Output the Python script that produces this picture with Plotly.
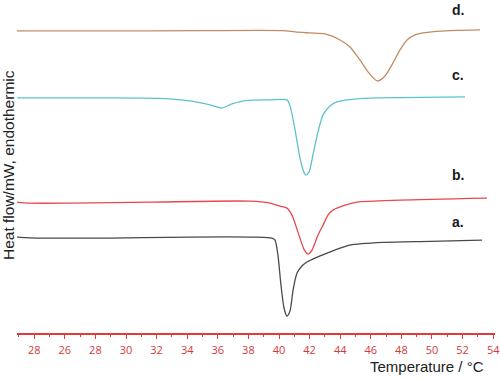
import plotly.graph_objects as go

# DSC curves: temperature (°C) and heat flow (arbitrary mW offsets)
T_d = [22.88, 28.30, 34.84, 40.26, 41.05, 42.03, 43.01, 43.99, 44.64, 45.29, 45.82, 46.41,
       46.93, 47.45, 47.91, 48.37, 48.89, 49.41, 51.18, 53.14]
Y_d = [9.07, 9.07, 9.08, 9.08, 9.04, 9.01, 8.98, 8.80, 8.59, 8.20, 7.84, 7.57,
       7.72, 8.11, 8.50, 8.80, 8.95, 9.01, 9.08, 9.10]

T_c = [22.88, 28.30, 32.55, 34.18, 35.49, 36.27, 36.93, 37.78, 39.41, 40.52, 40.72, 41.05,
       41.37, 41.63, 41.76, 41.96, 42.22, 42.55, 42.88, 43.33, 43.79, 45.29, 47.91, 52.16]
Y_c = [7.06, 7.06, 7.04, 6.97, 6.85, 6.76, 6.88, 6.98, 7.00, 7.00, 6.82, 6.10,
       5.26, 4.83, 4.74, 4.83, 5.35, 6.04, 6.55, 6.82, 6.94, 7.04, 7.07, 7.09]

T_b = [22.88, 23.73, 26.34, 31.57, 38.10, 39.41, 40.07, 40.52, 40.85, 41.24, 41.63, 41.90,
       42.16, 42.55, 42.88, 43.20, 43.53, 44.31, 45.10, 47.91, 53.59]
Y_b = [3.93, 3.90, 3.90, 3.93, 3.96, 3.90, 3.81, 3.75, 3.54, 3.03, 2.52, 2.37,
       2.49, 2.94, 3.24, 3.54, 3.69, 3.84, 3.93, 3.99, 4.05]

T_a = [22.88, 24.38, 28.30, 39.54, 39.74, 39.93, 40.13, 40.33, 40.52, 40.72, 40.92, 41.18,
       41.50, 41.83, 42.35, 43.14, 43.99, 44.64, 46.80, 49.87, 53.27]
Y_a = [2.88, 2.85, 2.85, 2.85, 2.79, 2.34, 1.44, 0.75, 0.51, 0.66, 1.29, 1.80,
       2.01, 2.13, 2.25, 2.40, 2.55, 2.64, 2.72, 2.75, 2.79]

tick_vals = [24, 26, 28, 30, 32, 34, 36, 38, 40, 42, 44, 46, 48, 50, 52, 54]
tick_text = ["28", "26", "28", "30", "32", "34", "36", "38", "40", "42", "44", "46",
             "48", "50", "52", "54"]

curves = [
    (T_d, Y_d, "#c58b60", "d."),
    (T_c, Y_c, "#5cc3cc", "c."),
    (T_b, Y_b, "#e8484d", "b."),
    (T_a, Y_a, "#4a4a4a", "a."),
]
label_y = {"d.": 9.70, "c.": 7.75, "b.": 4.74, "a.": 3.33}

W, H = 500, 379
L, R, TOP, B = 17, 5, 0, 46
pw, ph = W - L - R, H - TOP - B

def px2paper(px, py):
    return (px - L) / pw, (H - B - py) / ph

fig = go.Figure()
for T, Y, col, name in curves:
    fig.add_trace(go.Scatter(x=T, y=Y, mode="lines", name=name,
                             line=dict(color=col, width=1.3, shape="spline", smoothing=0.7),
                             showlegend=False, hoverinfo="skip"))
    fig.add_annotation(x=51.7, y=label_y[name], xref="x", yref="y", text="<b>%s</b>" % name,
                       xanchor="center", yanchor="middle",
                       showarrow=False, font=dict(family="Liberation Sans, Arial", size=14, color="#1a1a1a"))

yx, yy = px2paper(8, 165)
fig.add_annotation(x=yx, y=yy, xref="paper", yref="paper", text="Heat flow/mW, endothermic",
                   textangle=-90, showarrow=False, xanchor="center", yanchor="middle",
                   font=dict(family="Liberation Sans, Arial", size=15.5, color="#222222"))
tx, ty = px2paper(427, 366)
fig.add_annotation(x=tx, y=ty, xref="paper", yref="paper", text="Temperature / °C", showarrow=False,
                   xanchor="center", yanchor="middle",
                   font=dict(family="Liberation Sans, Arial", size=15, color="#222222"))

fig.update_layout(
    width=W, height=H,
    margin=dict(l=L, r=R, t=TOP, b=B),
    paper_bgcolor="white", plot_bgcolor="white",
    xaxis=dict(range=[22.876, 54.118], tickvals=tick_vals, ticktext=tick_text,
               showgrid=False, zeroline=False, showline=True, linecolor="#e03a3a", linewidth=1.5,
               ticks="outside", ticklen=4, tickcolor="#e03a3a", tickwidth=1,
               ticklabeloverflow="allow", ticklabelstandoff=2,
               tickfont=dict(family="Open Sans, Arial", size=11, color="#d23a3a"),
               minor=dict(dtick=1, tick0=23, ticks="outside", ticklen=2, tickcolor="#e03a3a")),
    yaxis=dict(range=[0, 10], visible=False),
)

fig.write_html("out.html", config={"displayModeBar": False},
               post_script="document.body.style.margin='0';")
